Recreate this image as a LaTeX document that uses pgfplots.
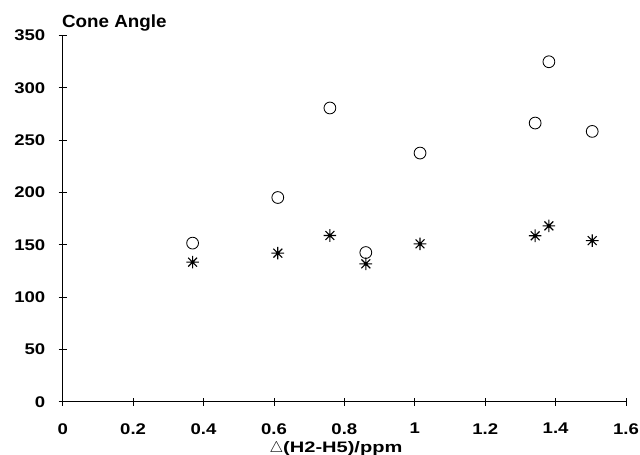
\documentclass[border=0pt]{standalone}
\usepackage{pgfplots}
\pgfplotsset{compat=1.18}
\usepackage{fontspec}
\setmainfont{Liberation Sans}
\newfontfamily\tickfont[FakeStretch=1.2]{Liberation Sans Bold}
\newfontfamily\labfont[FakeStretch=1.32]{Liberation Sans Bold}
\newfontfamily\titfont[FakeStretch=1.07]{Liberation Sans Bold}

% eight-armed star as in the original plot
\pgfdeclareplotmark{star8}{%
  \pgfpathmoveto{\pgfqpoint{-\pgfplotmarksize}{0pt}}\pgfpathlineto{\pgfqpoint{\pgfplotmarksize}{0pt}}%
  \pgfpathmoveto{\pgfqpoint{0pt}{-\pgfplotmarksize}}\pgfpathlineto{\pgfqpoint{0pt}{\pgfplotmarksize}}%
  \pgfpathmoveto{\pgfqpoint{-0.7\pgfplotmarksize}{-0.7\pgfplotmarksize}}\pgfpathlineto{\pgfqpoint{0.7\pgfplotmarksize}{0.7\pgfplotmarksize}}%
  \pgfpathmoveto{\pgfqpoint{-0.7\pgfplotmarksize}{0.7\pgfplotmarksize}}\pgfpathlineto{\pgfqpoint{0.7\pgfplotmarksize}{-0.7\pgfplotmarksize}}%
  \pgfusepathqstroke
  \pgfpathcircle{\pgfpointorigin}{0.3\pgfplotmarksize}\pgfusepathqfill
}

\begin{document}
\begin{tikzpicture}
\begin{axis}[
    scale only axis,
    width=14.08cm, height=9.15cm,
    xmin=0, xmax=1.6,
    ymin=0, ymax=350,
    xtick={0,0.2,...,1.6},
    ytick={0,50,...,350},
    axis lines=left,
    axis line style={-, line width=0.6pt},
    tick align=center,
    major tick length=0.2cm,
    tick style={black, line width=0.6pt},
    tick label style={font=\fontsize{11}{13}\tickfont},
    /pgf/number format/assume math mode=true,
    xticklabel style={yshift=-9pt},
    yticklabel style={xshift=-6pt},
    xlabel={$\triangle$(H2-H5)/ppm},
    xlabel style={font=\fontsize{10.8}{13}\labfont, inner sep=0pt, at={(axis description cs:0.5,0)}, anchor=north, yshift=-1.0cm, xshift=-0.21cm},
    title={Cone Angle},
    title style={font=\fontsize{12.5}{15}\titfont, at={(axis description cs:0,1)}, anchor=base west, yshift=0.0cm, xshift=-4pt},
    clip=false,
]
\coordinate (ll) at (rel axis cs:0,0);
\coordinate (ur) at (rel axis cs:1,1);
\addplot[only marks, mark=o, mark size=4.2pt, mark options={line width=0.6pt}] coordinates {
    (0.369,151.6) (0.611,195.2) (0.759,280.8) (0.861,142.6) (1.015,237.7)
    (1.342,266.4) (1.381,325.0) (1.504,258.4)
};
\addplot[only marks, mark=star8, mark size=4.5pt, mark options={line width=0.8pt}] coordinates {
    (0.369,133.4) (0.611,142.0) (0.759,158.9) (0.861,131.8) (1.015,150.9)
    (1.342,158.6) (1.381,168.1) (1.504,154.0)
};
\end{axis}
\pgfresetboundingbox
\path ([shift={(-1.567cm,-1.33cm)}]ll) rectangle ([shift={(0.35cm,0.89cm)}]ur);
\end{tikzpicture}
\end{document}
